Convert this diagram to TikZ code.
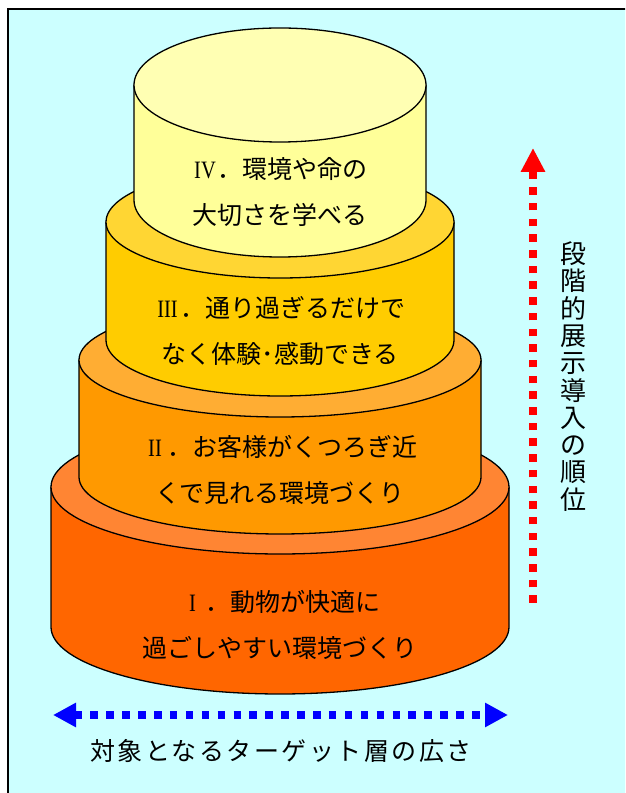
\documentclass[tikz,border=0pt]{standalone}
\usepackage{fontspec}
\usepackage{graphicx}
\setmainfont{Noto Sans CJK JP}
\newfontfamily\numfont{Liberation Serif}
\usetikzlibrary{arrows.meta}
\definecolor{bgcyan}{HTML}{CCFFFF}
\definecolor{ivtop}{HTML}{FFFFB3}
\definecolor{ivside}{HTML}{FFFF99}
\definecolor{iiitop}{HTML}{FFD633}
\definecolor{iiiside}{HTML}{FFCC00}
\definecolor{iitop}{HTML}{FFAD33}
\definecolor{iiside}{HTML}{FF9900}
\definecolor{itop}{HTML}{FF8533}
\definecolor{iside}{HTML}{FF6600}
\newcommand\cakelayer[7]{%
  \path[cakeline, fill=#6] (#1-#2,#4) -- (#1-#2,#5)
    arc[start angle=180, end angle=360, x radius=#2, y radius=#3]
    -- (#1+#2,#4) -- cycle;
  \path[cakeline, fill=#7] (#1,#4) ellipse [x radius=#2, y radius=#3];
}
\newcommand\romnum[1]{\makebox[1em][c]{\scalebox{0.82}[1]{\numfont #1}}}
\tikzset{
  cakeline/.style={draw=black, line width=1.3pt, line join=round},
  lbl/.style={font=\fontsize{25}{46}\selectfont, align=center, inner sep=0pt, text=black},
  vlbl/.style={font=\fontsize{26}{27.3}\selectfont, align=center, inner sep=0pt, text=black},
  reddots/.style={draw=red, line width=7.5pt, dash pattern=on 7.5pt off 8.2pt,
    -{Triangle[length=24pt, width=23pt]}},
  bluedots/.style={draw=blue, line width=7.5pt, dash pattern=on 7.5pt off 8.4pt,
    {Triangle[length=23pt, width=23pt]}-{Triangle[length=23pt, width=23pt]}}
}
\begin{document}
\begin{tikzpicture}[x=1pt, y=1pt]
\clip (0,0) rectangle (625,793);
\fill[white] (0,0) rectangle (625,793);
\draw[fill=bgcyan, line width=1.5pt] (8,-20) rectangle (650,784);
% layers: cx, rx, ry, Ytop, Ybot, side, top
\cakelayer{280}{229}{67}{306}{166}{iside}{itop}
\cakelayer{280}{201}{57}{433}{316}{iiside}{iitop}
\cakelayer{280}{174}{56}{571}{453}{iiiside}{iiitop}
\cakelayer{280}{146}{57}{708}{593}{ivside}{ivtop}
\node[lbl] (t4) at (280,601) {\romnum{IV}．環境や命の\\大切さを学べる};
\node[lbl] (t3) at (280,462) {\romnum{III}．通り過ぎるだけで\\なく体験･感動できる};
\node[lbl] (t2) at (280,323.5) {\romnum{II}．お客様がくつろぎ近\\くで見れる環境づくり};
\node[lbl] (t1) at (280,168) {\romnum{I}．動物が快適に\\過ごしやすい環境づくり};
\node[lbl, font=\fontsize{25}{30}\selectfont\addfontfeatures{LetterSpace=10}] (tb) at (281,42) {対象となるターゲット層の広さ};
\node[vlbl] (tv) at (573,416.5) {段\\階\\的\\展\\示\\導\\入\\の\\順\\位};
\coordinate (rb) at (533,190);
\coordinate (rt) at (533,645);
\draw[reddots] (rb) -- (rt);
\coordinate (bl) at (53,78);
\coordinate (br) at (508,78);
\draw[bluedots] (bl) -- (br);
\end{tikzpicture}
\end{document}
